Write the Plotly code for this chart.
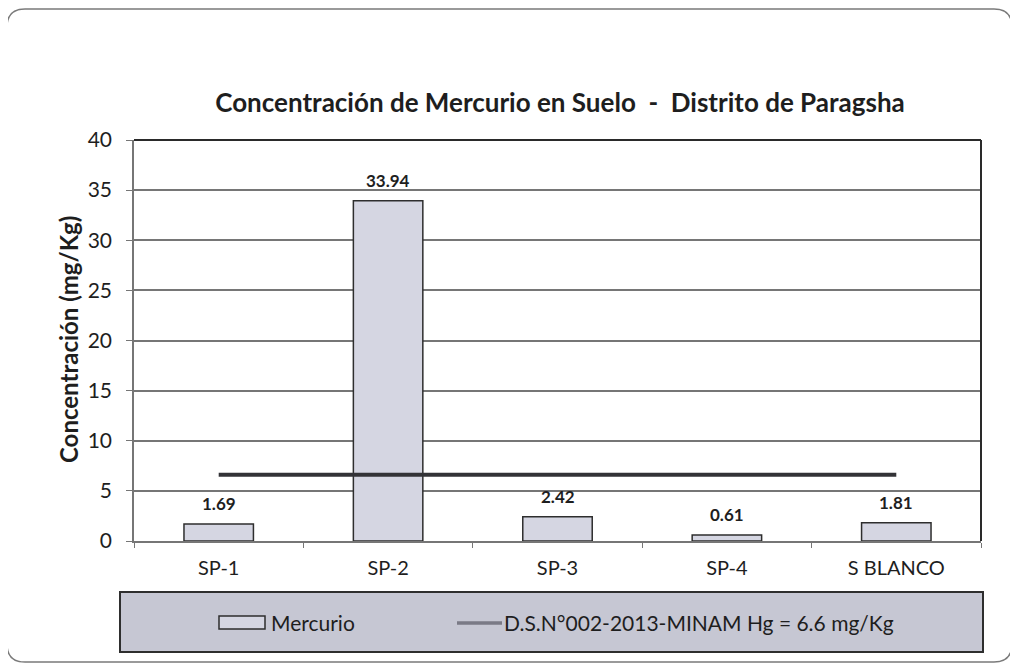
import plotly.graph_objects as go

# data
SITES = ["SP-1", "SP-2", "SP-3", "SP-4", "S BLANCO"]
MERCURIO = [1.69, 33.94, 2.42, 0.61, 1.81]
LIMITE = [6.6, 6.6, 6.6, 6.6, 6.6]
Y_TICKS = [0, 5, 10, 15, 20, 25, 30, 35, 40]

TITLE = "Concentración de Mercurio en Suelo  -  Distrito de Paragsha"
Y_TITLE = "Concentración (mg/Kg)"
LEG_BAR = "Mercurio"
LEG_LINE = "D.S.N°002-2013-MINAM Hg = 6.6 mg/Kg"

COLORS = {
    "bar": "#d5d6e2",
    "bar_edge": "#2e2e2e",
    "line": "#333337",
    "legend_line": "#7a7a86",
    "legend_bg": "#c6c7d3",
    "grid": "#767676",
    "text": "#1e1e1e",
    "frame": "#7a7a7a",
}
FONT = "Lato, 'Open Sans', sans-serif"

# the page puts the figure 8px in from the top-left corner
OFF = 8
W, H = 1018 - OFF, 668 - OFF
# plot area in screen pixels: x 134..981, y 140..541
L, R, T, B = 134 - OFF, W - (981 - OFF), 140 - OFF, H - (541 - OFF)
PW, PH = W - L - R, H - T - B


def px(x):
    # screen x -> paper x
    return (x - OFF - L) / PW


def py(y):
    # screen y -> paper y
    return (H - B - (y - OFF)) / PH


fig = go.Figure()
fig.add_trace(go.Bar(
    x=SITES, y=MERCURIO, name=LEG_BAR,
    marker=dict(color=COLORS["bar"], line=dict(color=COLORS["bar_edge"], width=1.5)),
    hoverinfo="x+y",
))
fig.add_trace(go.Scatter(
    x=SITES, y=LIMITE, mode="lines", name=LEG_LINE,
    line=dict(color=COLORS["line"], width=4),
))

# value labels above bars
for s, v in zip(SITES, MERCURIO):
    fig.add_annotation(
        x=s, y=v, text=f"<b>{v:.2f}</b>", showarrow=False,
        yanchor="bottom", yshift=8,
        font=dict(family=FONT, size=17, color=COLORS["text"]),
    )

# y title
fig.add_annotation(
    xref="paper", yref="paper", x=px(68), y=py(340), text=f"<b>{Y_TITLE}</b>",
    textangle=-90, showarrow=False, xanchor="center", yanchor="middle",
    font=dict(family=FONT, size=24, color=COLORS["text"]),
)

shapes = [
    # outer chart frame
    dict(type="path", xref="paper", yref="paper", layer="below",
         path=f"M {px(7)},{py(640)} L {px(7)},{py(27)} Q {px(7)},{py(9)} {px(25)},{py(9)} "
              f"L {px(994)},{py(9)} Q {px(1012)},{py(9)} {px(1012)},{py(27)} L {px(1012)},{py(644)} "
              f"Q {px(1012)},{py(662)} {px(994)},{py(662)} L {px(25)},{py(662)} Q {px(7)},{py(662)} {px(7)},{py(644)} Z",
         line=dict(color=COLORS["frame"], width=1.5)),
    # plot area top / right border
    dict(type="line", xref="paper", yref="paper", x0=0, x1=1, y0=1, y1=1,
         line=dict(color="#2a2a2a", width=2)),
    dict(type="line", xref="paper", yref="paper", x0=1, x1=1, y0=0, y1=1,
         line=dict(color="#2a2a2a", width=2)),
    # legend box
    dict(type="rect", xref="paper", yref="paper", x0=px(120), x1=px(983), y0=py(592), y1=py(652),
         fillcolor=COLORS["legend_bg"], line=dict(color="#2e2e2e", width=2)),
    dict(type="rect", xref="paper", yref="paper", x0=px(219), x1=px(265), y0=py(616), y1=py(629),
         fillcolor=COLORS["bar"], line=dict(color=COLORS["bar_edge"], width=1.5)),
    dict(type="line", xref="paper", yref="paper", x0=px(457), x1=px(502), y0=py(623), y1=py(623),
         line=dict(color=COLORS["legend_line"], width=3.5)),
]

fig.add_annotation(
    xref="paper", yref="paper", x=px(269), y=py(622), text=LEG_BAR, showarrow=False,
    xanchor="left", yanchor="middle", font=dict(family=FONT, size=21, color=COLORS["text"]),
)
fig.add_annotation(
    xref="paper", yref="paper", x=px(502), y=py(622), text=LEG_LINE, showarrow=False,
    xanchor="left", yanchor="middle", font=dict(family=FONT, size=21, color=COLORS["text"]),
)

fig.update_layout(
    width=W, height=H, autosize=False,
    margin=dict(l=L, r=R, t=T, b=B),
    paper_bgcolor="white", plot_bgcolor="white",
    font=dict(family=FONT, color=COLORS["text"], size=20),
    title=dict(text=f"<b>{TITLE}</b>", xref="paper", x=px(560), xanchor="center",
               y=1 - (103 - OFF) / H, yanchor="middle",
               font=dict(family=FONT, size=26, color=COLORS["text"])),
    showlegend=False,
    bargap=0.59,
    shapes=shapes,
    xaxis=dict(
        showgrid=False, showline=True, linecolor=COLORS["grid"], linewidth=1.5,
        ticks="outside", tickson="boundaries", ticklen=5, tickcolor=COLORS["grid"],
        ticklabelstandoff=8, tickfont=dict(size=20),
    ),
    yaxis=dict(
        range=[0, 40], tickvals=Y_TICKS, showgrid=True, gridcolor=COLORS["grid"], gridwidth=1.5,
        showline=True, linecolor=COLORS["grid"], linewidth=1.5, zeroline=False,
        ticks="outside", ticklen=6, tickcolor=COLORS["grid"], tickfont=dict(size=21),
        ticklabelstandoff=10,
    ),
)

fig.write_html("out.html")
